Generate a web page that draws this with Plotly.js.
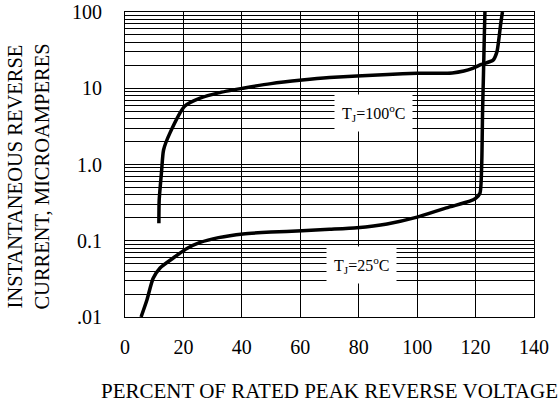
<!DOCTYPE html>
<html>
<head>
<meta charset="utf-8">
<script src="https://cdn.plot.ly/plotly-3.0.1.min.js"></script>
<style>html,body{margin:0;padding:0;background:#fff;}#chart{width:559px;height:407px;}</style>
</head>
<body>
<div id="chart"></div>
<script>
// T_J = 100°C curve
var x100 = [11.6, 11.7, 12.5, 13.2, 15.4, 20.5, 25.7, 32, 40.4, 50, 60.6, 70, 79.4, 90, 100, 112, 116, 119, 122, 126, 127.3, 128, 128.6, 129.2];
var y100 = [0.17, 0.34, 0.8, 1.55, 2.6, 5.85, 7.4, 8.7, 10, 11.5, 12.8, 13.8, 14.5, 15.2, 15.7, 15.9, 16.8, 18.2, 20.5, 23.4, 30, 45, 70, 100];
// T_J = 25°C curve
var x25 = [5.5, 7.5, 9.6, 12, 16.4, 21.2, 25.7, 32, 40.4, 50, 60.6, 70, 79.4, 89.7, 100, 110, 118, 120, 121.5, 122.1, 122.4, 122.7, 123.0, 123.2];
var y25 = [0.01, 0.0167, 0.032, 0.044, 0.059, 0.079, 0.095, 0.11, 0.123, 0.13, 0.135, 0.141, 0.148, 0.166, 0.204, 0.27, 0.33, 0.36, 0.42, 1, 5, 15, 50, 100];
// axis ticks
var xTicks = [0, 20, 40, 60, 80, 100, 120, 140];
var xTickText = ["0", "20", "40", "60", "80", "100", "120", "140"];
var yDecades = [0.01, 0.1, 1, 10, 100];
var yDecadeText = [".01", "0.1", "1.0", "10", "100"];
var labels = ["T<sub>J</sub>=100<sup>o</sup>C", "T<sub>J</sub>=25<sup>o</sup>C"];
var labelX = [84.9, 81.1];
var labelY = [4.73, 0.048];
var xTitle = "PERCENT OF RATED PEAK REVERSE VOLTAGE";
var yTitle = "INSTANTANEOUS REVERSE<br>CURRENT, MICROAMPERES";

var fam = "Liberation Serif";

var traces = [
  {x: x100, y: y100, type: "scatter", mode: "lines", line: {color: "#000", width: 3.5, shape: "spline", smoothing: 0.6}, hoverinfo: "skip"},
  {x: x25, y: y25, type: "scatter", mode: "lines", line: {color: "#000", width: 3.5, shape: "spline", smoothing: 0.6}, hoverinfo: "skip"}
];

var annotations = labels.map(function (t, i) {
  return {x: labelX[i], y: Math.log10(labelY[i]), xref: "x", yref: "y", text: t, showarrow: false,
    bgcolor: "#fff", borderpad: 7, font: {family: fam, size: 16, color: "#000"}};
});
annotations.push({xref: "paper", yref: "paper", x: -0.235, y: 0.46, xanchor: "center", yanchor: "middle",
  text: yTitle, textangle: -90, showarrow: false, font: {family: fam, size: 20.5, color: "#000"}});

var layout = {
  width: 559, height: 407,
  margin: {l: 125, r: 25, t: 12, b: 90},
  paper_bgcolor: "#fff", plot_bgcolor: "#fff",
  showlegend: false,
  font: {family: fam, color: "#000", size: 20},
  xaxis: {
    range: [0, 140], tickvals: xTicks, ticktext: xTickText,
    showgrid: true, gridcolor: "#000", gridwidth: 1,
    showline: true, mirror: true, linecolor: "#000", linewidth: 1,
    zeroline: false, ticks: "outside", ticklen: 12, tickcolor: "rgba(0,0,0,0)",
    tickfont: {family: fam, size: 20, color: "#000"},
    title: {text: xTitle, standoff: 26, font: {family: fam, size: 21, color: "#000"}}
  },
  yaxis: {
    type: "log", range: [-2, 2], tickvals: yDecades, ticktext: yDecadeText,
    showgrid: true, gridcolor: "#000", gridwidth: 1,
    minor: {dtick: "D1", showgrid: true, gridcolor: "#000", gridwidth: 1, ticks: ""},
    showline: true, mirror: true, linecolor: "#000", linewidth: 1,
    zeroline: false, ticks: "outside", ticklen: 18, tickcolor: "rgba(0,0,0,0)",
    tickfont: {family: fam, size: 20, color: "#000"}
  },
  annotations: annotations
};

Plotly.newPlot("chart", traces, layout, {staticPlot: true, displayModeBar: false});
</script>
</body>
</html>
